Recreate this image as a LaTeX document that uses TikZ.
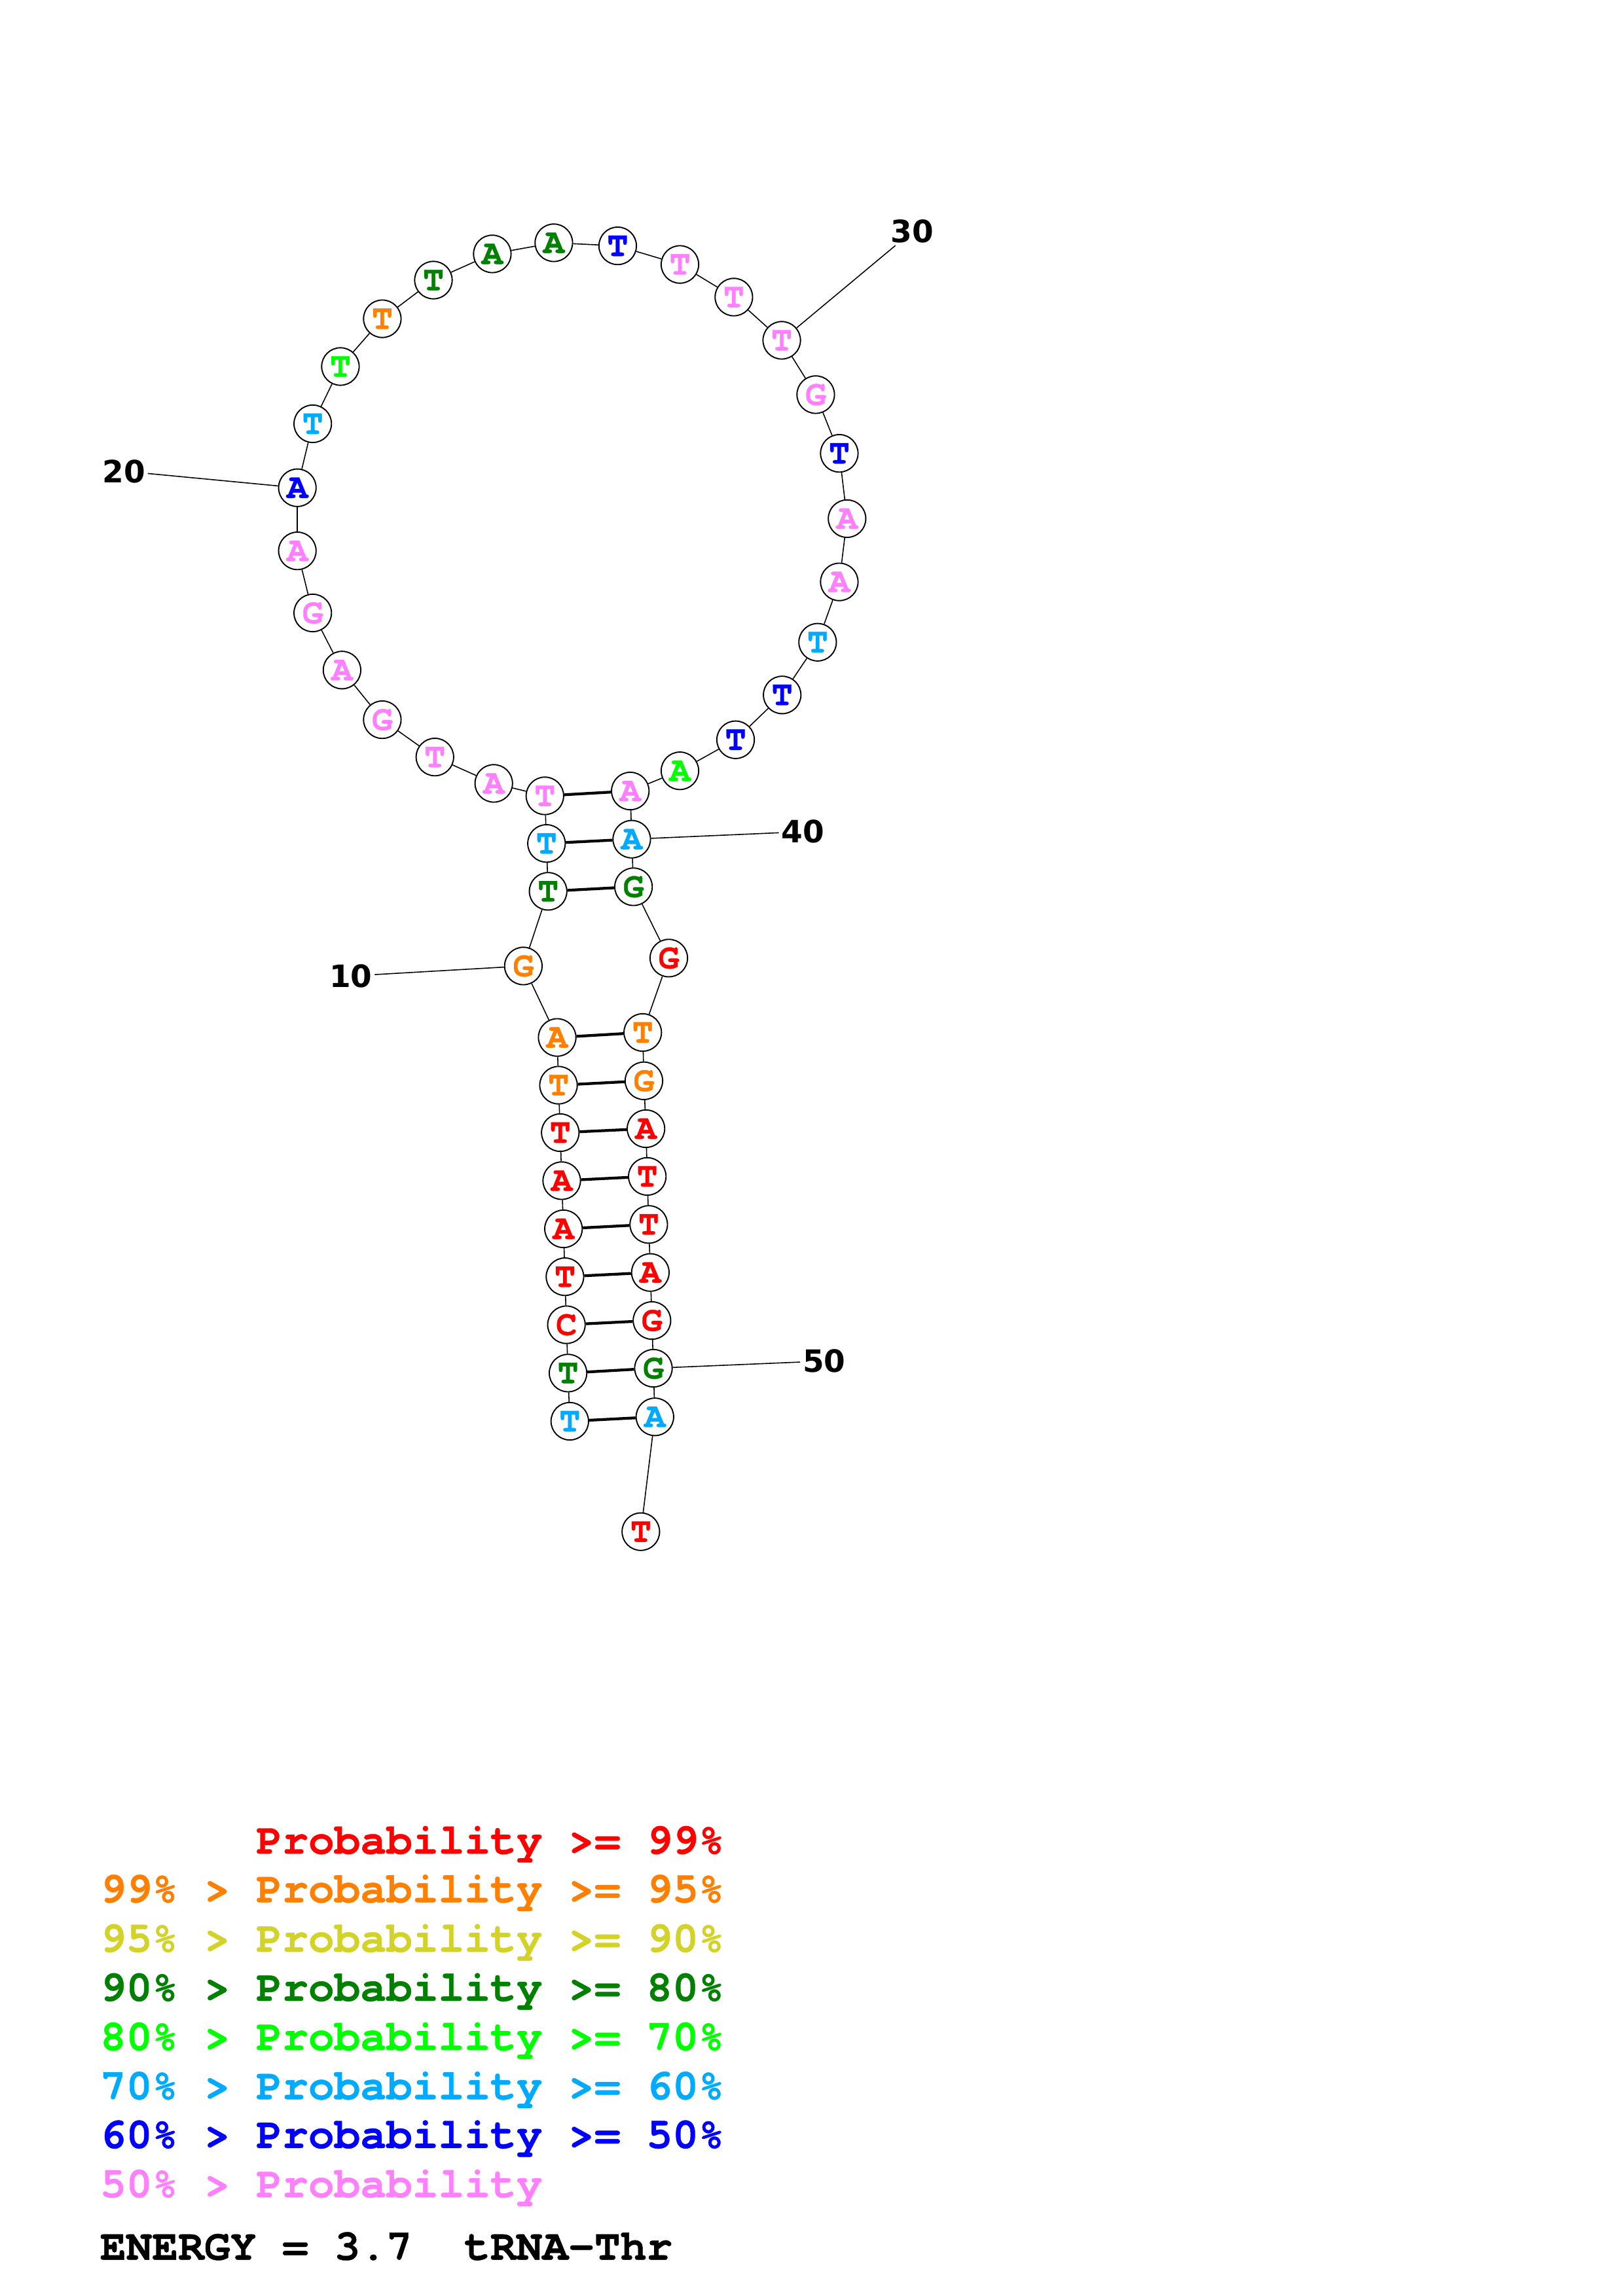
\documentclass[tikz,border=0pt]{standalone}
\usepackage{fontspec}
\newfontfamily\monob{texgyrecursor}[Extension=.otf,UprightFont=*-bold,BoldFont=*-bold,FakeBold=0.6]
\newfontfamily\labf{DejaVu Sans}
\definecolor{cR}{RGB}{255,0,0}
\definecolor{cO}{RGB}{255,128,0}
\definecolor{cY}{RGB}{210,210,40}
\definecolor{cDG}{RGB}{0,128,0}
\definecolor{cBG}{RGB}{0,255,0}
\definecolor{cLB}{RGB}{0,170,255}
\definecolor{cB}{RGB}{0,0,255}
\definecolor{cP}{RGB}{255,128,255}
\tikzset{
  base/.style={circle,draw,line width=0.85pt,fill=white,minimum size=25.6pt,inner sep=0pt,
    font=\monob\fontsize{24}{24}\selectfont},
  bb/.style={line width=0.7pt},
  pairline/.style={line width=1.9pt},
  numlab/.style={font=\labf\bfseries\fontsize{21}{21}\selectfont,inner sep=1.5pt},
  leg/.style={anchor=base west,inner sep=0pt,font=\monob\fontsize{29.6}{30}\selectfont}
}
\begin{document}
\begin{tikzpicture}[x=1pt,y=-1pt]
\useasboundingbox (0,0) rectangle (1108,1568);
\fill[white] (0,0) rectangle (1108,1568);
\foreach \i/\x/\y/\l/\c in {
 1/389.0/970.6/T/cLB, 2/387.8/937.7/T/cDG, 3/386.7/904.7/C/cR, 4/385.7/871.9/T/cR,
 5/384.7/839.2/A/cR, 6/383.5/806.3/A/cR, 7/382.5/773.5/T/cR, 8/381.3/741.1/T/cO,
 9/380.4/708.5/A/cO, 10/357.3/659.7/G/cO, 11/374.2/608.7/T/cDG, 12/373.1/576.0/T/cLB,
 13/372.0/543.5/T/cP, 14/337.1/535.0/A/cP, 15/296.9/517.0/T/cP, 16/261.0/491.5/G/cP,
 17/233.5/457.6/A/cP, 18/213.5/418.6/G/cP, 19/203.0/376.2/A/cP, 20/203.0/333.1/A/cB,
 21/213.5/289.4/T/cLB, 22/232.4/250.3/T/cBG, 23/261.0/217.7/T/cO, 24/295.9/191.3/T/cDG,
 25/336.1/173.4/A/cDG, 26/378.1/165.8/A/cDG, 27/421.7/167.9/T/cB, 28/464.2/180.6/T/cP,
 29/501.0/202.9/T/cP, 30/533.7/232.4/T/cP, 31/556.9/269.5/G/cP, 32/573.0/309.6/T/cB,
 33/578.3/354.2/A/cP, 34/573.0/397.4/A/cP, 35/558.2/438.6/T/cLB, 36/534.0/474.6/T/cB,
 37/502.2/505.2/T/cB, 38/464.2/526.4/A/cBG, 39/430.3/540.2/A/cP, 40/431.3/573.1/A/cLB,
 41/432.5/605.6/G/cDG, 42/456.6/654.3/G/cR, 43/438.8/705.1/T/cO, 44/439.6/738.1/G/cO,
 45/441.0/770.8/A/cR, 46/441.9/803.4/T/cR, 47/442.9/836.2/T/cR, 48/444.0/869.0/A/cR,
 49/445.1/901.8/G/cR, 50/446.1/934.4/G/cDG, 51/447.1/967.6/A/cLB, 52/437.5/1046.0/T/cR}
 {\node[base,text=\c] (n\i) at (\x,\y) {\l};}
\foreach \i [evaluate=\i as \j using int(\i+1)] in {1,...,51}
 {\draw[bb] (n\i) -- (n\j);}
\foreach \a/\b in {1/51,2/50,3/49,4/48,5/47,6/46,7/45,8/44,9/43,11/41,12/40,13/39}
 {\draw[pairline] (n\a) -- (n\b);}
\node[numlab] (l10) at (239.5,666.5) {10};
\node[numlab] (l20) at (84.6,321.8) {20};
\node[numlab] (l30) at (622.9,158.0) {30};
\node[numlab] (l40) at (548.0,568.0) {40};
\node[numlab] (l50) at (562.6,929.5) {50};
\draw[bb] (n10) -- (l10);
\draw[bb] (n20) -- (l20);
\draw[bb] (n30) -- (l30);
\draw[bb] (n40) -- (l40);
\draw[bb] (n50) -- (l50);
\node[leg,text=cR] (g1) at (174.8,1265.9) {Probability >= 99\%};
\node[leg,text=cO] (g2) at (68.2,1299.1) {99\% > Probability >= 95\%};
\node[leg,text=cY] (g3) at (68.2,1332.9) {95\% > Probability >= 90\%};
\node[leg,text=cDG] (g4) at (68.2,1366.4) {90\% > Probability >= 80\%};
\node[leg,text=cBG] (g5) at (68.2,1400.0) {80\% > Probability >= 70\%};
\node[leg,text=cLB] (g6) at (68.2,1433.6) {70\% > Probability >= 60\%};
\node[leg,text=cB] (g7) at (68.2,1466.9) {60\% > Probability >= 50\%};
\node[leg,text=cP] (g8) at (68.2,1500.5) {50\% > Probability};
\node[leg,text=black] (en) at (68.2,1543.2) {ENERGY = 3.7 \ tRNA-Thr};
\end{tikzpicture}
\end{document}
